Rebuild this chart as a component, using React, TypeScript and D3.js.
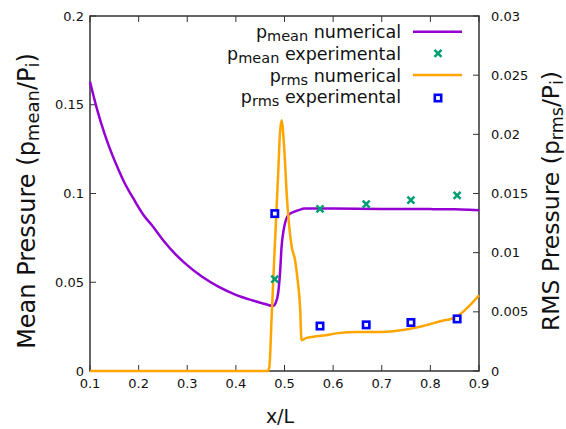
import React from "react";
import * as d3 from "d3";

const W = 566;
const H = 429;

const xTicks = [0.1, 0.2, 0.3, 0.4, 0.5, 0.6, 0.7, 0.8, 0.9];
const yLeftTicks = [0, 0.05, 0.1, 0.15, 0.2];
const yRightTicks = [0, 0.005, 0.01, 0.015, 0.02, 0.025, 0.03];

const meanNumX = [0.1, 0.115, 0.13, 0.145, 0.16, 0.172, 0.19, 0.21, 0.227, 0.25, 0.275, 0.295, 0.33, 0.364, 0.4, 0.4325, 0.46, 0.477, 0.482, 0.487, 0.491, 0.494, 0.498, 0.501, 0.508, 0.518, 0.528, 0.542, 0.57, 0.6, 0.7, 0.8, 0.85, 0.88, 0.9];
const meanNumY = [0.163, 0.147, 0.1336, 0.1223, 0.1126, 0.1055, 0.0968, 0.0879, 0.0822, 0.0738, 0.066, 0.0608, 0.0532, 0.0475, 0.0429, 0.0399, 0.0377, 0.0367, 0.0385, 0.044, 0.056, 0.07, 0.079, 0.0832, 0.0879, 0.0895, 0.0905, 0.0915, 0.0916, 0.0915, 0.0913, 0.0912, 0.0911, 0.0908, 0.0905];

const rmsNumX = [0.1, 0.466, 0.469, 0.4736, 0.48, 0.487, 0.4907, 0.494, 0.4996, 0.5045, 0.508, 0.5148, 0.5216, 0.527, 0.532, 0.535, 0.545, 0.56, 0.58, 0.61, 0.65, 0.7, 0.75, 0.785, 0.82, 0.855, 0.88, 0.9];
const rmsNumY = [0, 0, 0.0004, 0.0046, 0.0105, 0.0167, 0.0201, 0.0212, 0.0187, 0.015, 0.013, 0.0105, 0.0094, 0.0077, 0.0054, 0.0026, 0.0028, 0.0029, 0.003, 0.0032, 0.0033, 0.0033, 0.0035, 0.0038, 0.0042, 0.0046, 0.0055, 0.0064];

const meanExpX = [0.48, 0.573, 0.668, 0.76, 0.855];
const meanExpY = [0.0518, 0.0913, 0.094, 0.0963, 0.099];

const rmsExpX = [0.48, 0.573, 0.668, 0.76, 0.855];
const rmsExpY = [0.0133, 0.0038, 0.0039, 0.0041, 0.0044];

const PURPLE = "#9400D3";
const ORANGE = "#FFA500";
const GREEN = "#009E73";
const BLUE = "#0000FF";
const FRAME = "#333";
const FONT = "DejaVu Sans, sans-serif";

export default function App() {
  const x0 = 90, x1 = 479, y0 = 16, y1 = 371;
  const x = d3.scaleLinear().domain([0.1, 0.9]).range([x0, x1]);
  const yL = d3.scaleLinear().domain([0, 0.2]).range([y1, y0]);
  const yR = d3.scaleLinear().domain([0, 0.03]).range([y1, y0]);

  const meanLine = d3.line<number>().x((d, i) => x(meanNumX[i])).y((d) => yL(d)).curve(d3.curveMonotoneX);
  const rmsLine = d3.line<number>().x((d, i) => x(rmsNumX[i])).y((d) => yR(d)).curve(d3.curveMonotoneX);

  const cross = (cx: number, cy: number, k: string) => (
    <path key={k} d={`M${cx - 3.5},${cy - 3.5}L${cx + 3.5},${cy + 3.5}M${cx - 3.5},${cy + 3.5}L${cx + 3.5},${cy - 3.5}`} stroke={GREEN} strokeWidth={2.5} fill="none" />
  );
  const square = (cx: number, cy: number, k: string) => (
    <rect key={k} x={cx - 3.2} y={cy - 3.2} width={6.4} height={6.4} stroke={BLUE} strokeWidth={2.6} fill="white" />
  );

  const tickLen = 6;
  const legX = 401;
  const lx0 = 413, lx1 = 462, lmx = 438;

  return (
    <svg width={W} height={H} style={{ position: "absolute", left: 0, top: 0, background: "white" }} fontFamily={FONT}>
      <rect x={0} y={0} width={W} height={H} fill="white" />
      {xTicks.map((t) => (
        <g key={"xt" + t}>
          <line x1={x(t)} x2={x(t)} y1={y1} y2={y1 - tickLen} stroke={FRAME} strokeWidth={1} />
          <line x1={x(t)} x2={x(t)} y1={y0} y2={y0 + tickLen} stroke={FRAME} strokeWidth={1} />
          <text x={x(t)} y={388} textAnchor="middle" fontSize={13} fill="#111">{String(t)}</text>
        </g>
      ))}
      {yLeftTicks.map((t) => (
        <g key={"yl" + t}>
          <line x1={x0} x2={x0 + tickLen} y1={yL(t)} y2={yL(t)} stroke={FRAME} strokeWidth={1} />
          <text x={84} y={yL(t) + 4.5} textAnchor="end" fontSize={13} fill="#111">{String(t)}</text>
        </g>
      ))}
      {yRightTicks.map((t) => (
        <g key={"yr" + t}>
          <line x1={x1} x2={x1 - tickLen} y1={yR(t)} y2={yR(t)} stroke={FRAME} strokeWidth={1} />
          <text x={491} y={yR(t) + 4.5} textAnchor="start" fontSize={13} fill="#111">{String(t)}</text>
        </g>
      ))}
      <rect x={x0} y={y0} width={x1 - x0} height={y1 - y0} fill="none" stroke={FRAME} strokeWidth={1.5} />

      <path d={meanLine(meanNumY) || ""} fill="none" stroke={PURPLE} strokeWidth={2.5} strokeLinejoin="round" />
      <path d={rmsLine(rmsNumY) || ""} fill="none" stroke={ORANGE} strokeWidth={2.5} strokeLinejoin="round" />
      {meanExpX.map((v, i) => cross(x(v), yL(meanExpY[i]), "mx" + i))}
      {rmsExpX.map((v, i) => square(x(v), yR(rmsExpY[i]), "rx" + i))}

      <text x={legX} y={38} textAnchor="end" fontSize={17.5} fill="#111">
        p<tspan fontSize={14.5} dy={3}>mean</tspan><tspan dy={-3}> numerical</tspan>
      </text>
      <line x1={lx0} x2={lx1} y1={31.7} y2={31.7} stroke={PURPLE} strokeWidth={2.5} />
      <text x={legX} y={60} textAnchor="end" fontSize={17.5} fill="#111">
        p<tspan fontSize={14.5} dy={3}>mean</tspan><tspan dy={-3}> experimental</tspan>
      </text>
      {cross(lmx, 53.3, "lc")}
      <text x={legX} y={81.5} textAnchor="end" fontSize={17.5} fill="#111">
        p<tspan fontSize={14.5} dy={3}>rms</tspan><tspan dy={-3}> numerical</tspan>
      </text>
      <line x1={lx0} x2={lx1} y1={75} y2={75} stroke={ORANGE} strokeWidth={2.5} />
      <text x={legX} y={103} textAnchor="end" fontSize={17.5} fill="#111">
        p<tspan fontSize={14.5} dy={3}>rms</tspan><tspan dy={-3}> experimental</tspan>
      </text>
      {square(lmx, 98, "ls")}

      <text x={280} y={423} textAnchor="middle" fontSize={19} fill="#111">x/L</text>
      <text transform="translate(35,201) rotate(-90)" textAnchor="middle" fontSize={24} fill="#111">
        Mean Pressure (p<tspan fontSize={18} dy={4}>mean</tspan><tspan dy={-4}>/P</tspan><tspan fontSize={18} dy={4}>i</tspan><tspan dy={-4}>)</tspan>
      </text>
      <text transform="translate(559,201) rotate(-90)" textAnchor="middle" fontSize={23.5} fill="#111">
        RMS Pressure (p<tspan fontSize={17.5} dy={3.5}>rms</tspan><tspan dy={-3.5}>/P</tspan><tspan fontSize={17.5} dy={3.5}>i</tspan><tspan dy={-3.5}>)</tspan>
      </text>
    </svg>
  );
}
